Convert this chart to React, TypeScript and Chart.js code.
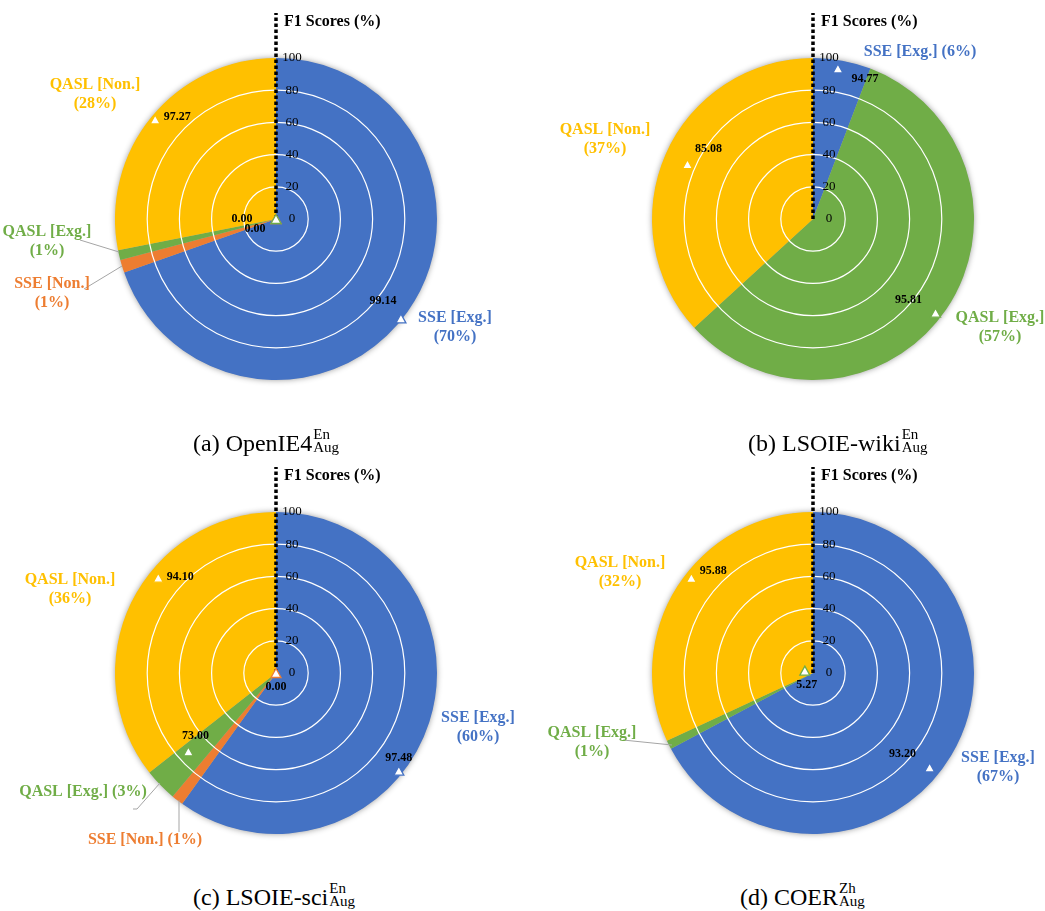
import React, { useEffect, useRef } from "react";
import { Chart, registerables } from "chart.js";

Chart.register(...registerables);

// ---------------- data ----------------
const CATEGORIES_A = ["SSE [Exg.]", "SSE [Non.]", "QASL [Exg.]", "QASL [Non.]"];
const SHARES_A = [69.6, 1.3, 1.0, 28.1];
const F1_A = [99.14, 0.0, 0.0, 97.27];

const CATEGORIES_B = ["SSE [Exg.]", "QASL [Exg.]", "QASL [Non.]"];
const SHARES_B = [5.8, 57.4, 36.8];
const F1_B = [94.77, 95.81, 85.08];

const CATEGORIES_C = ["SSE [Exg.]", "SSE [Non.]", "QASL [Exg.]", "QASL [Non.]"];
const SHARES_C = [59.9, 1.2, 3.3, 35.6];
const F1_C = [97.48, 0.0, 73.0, 94.1];

const CATEGORIES_D = ["SSE [Exg.]", "QASL [Exg.]", "QASL [Non.]"];
const SHARES_D = [67.2, 0.9, 31.9];
const F1_D = [93.2, 5.27, 95.88];

const R_MIN = 0;
const R_MAX = 100;
const R_STEP = 20;
const AXIS_TITLE = "F1 Scores (%)";

// ---------------- styles / layout ----------------
const SERIF = '"Liberation Serif", "Times New Roman", "DejaVu Serif", serif';
const COLOR_BY_CATEGORY: Record<string, string> = {
  "SSE [Exg.]": "#4472C4",
  "SSE [Non.]": "#ED7D31",
  "QASL [Exg.]": "#70AD47",
  "QASL [Non.]": "#FFC000",
};
const RADIUS = 161;

type Label = { dx: number; dy: number; oneLine?: boolean; leader?: number[][] };
type Panel = {
  key: string;
  categories: string[];
  shares: number[];
  f1: number[];
  markerAngles: (number | null)[]; // degrees clockwise from 12 o'clock; null = slice middle
  labels: Label[];
  valueOffsets: number[][];
  box: { x: number; y: number; w: number; h: number };
  center: { x: number; y: number };
  caption: { main: string; sup: string; sub: string; left: number; top: number };
};

const PANELS: Panel[] = [
  {
    key: "a",
    categories: CATEGORIES_A,
    shares: SHARES_A,
    f1: F1_A,
    markerAngles: [128.5, null, null, 309.5],
    labels: [
      { dx: 179, dy: 99 },
      { dx: -224, dy: 65, leader: [[-192, 70], [-154, 47]] },
      { dx: -229, dy: 13, leader: [[-196, 21], [-157, 33]] },
      { dx: -181, dy: -134 },
    ],
    valueOffsets: [[-18, -17], [-21, 10], [-34, 0], [22, -2]],
    box: { x: 0, y: 0, w: 522, h: 420 },
    center: { x: 276, y: 219 },
    caption: { main: "(a) OpenIE4", sup: "En", sub: "Aug", left: 193, top: 428 },
  },
  {
    key: "b",
    categories: CATEGORIES_B,
    shares: SHARES_B,
    f1: F1_B,
    markerAngles: [9.4, 127.4, 293.6],
    labels: [
      { dx: 107, dy: -167, oneLine: true },
      { dx: 187, dy: 99 },
      { dx: -208, dy: -89 },
    ],
    valueOffsets: [[27, 10], [-27, -13], [21, -15]],
    box: { x: 523, y: 0, w: 522, h: 420 },
    center: { x: 813, y: 219 },
    caption: { main: "(b) LSOIE-wiki", sup: "En", sub: "Aug", left: 748, top: 428 },
  },
  {
    key: "c",
    categories: CATEGORIES_C,
    shares: SHARES_C,
    f1: F1_C,
    markerAngles: [128.5, null, 228.2, 309],
    labels: [
      { dx: 202, dy: 45 },
      { dx: -131, dy: 167, oneLine: true, leader: [[-97, 159], [-97, 127]] },
      { dx: -193, dy: 119, oneLine: true, leader: [[-143, 136], [-139, 136], [-116, 110]] },
      { dx: -206, dy: -93 },
    ],
    valueOffsets: [[0, -13], [0, 14], [7, -15], [22, -1]],
    box: { x: 0, y: 454, w: 522, h: 420 },
    center: { x: 276, y: 673 },
    caption: { main: "(c) LSOIE-sci", sup: "En", sub: "Aug", left: 193, top: 882 },
  },
  {
    key: "d",
    categories: CATEGORIES_D,
    shares: SHARES_D,
    f1: F1_D,
    markerAngles: [129, 286, 308],
    labels: [
      { dx: 185, dy: 85 },
      { dx: -221, dy: 60, leader: [[-190, 67], [-141, 72]] },
      { dx: -193, dy: -110 },
    ],
    valueOffsets: [[-27, -14], [2, 14], [22, -7]],
    box: { x: 523, y: 454, w: 522, h: 420 },
    center: { x: 813, y: 673 },
    caption: { main: "(d) COER", sup: "Zh", sub: "Aug", left: 740, top: 882 },
  },
];

function drawTriangle(ctx: CanvasRenderingContext2D, x: number, y: number, stroke: string) {
  const w = 10;
  const h = 9;
  ctx.beginPath();
  ctx.moveTo(x, y - h / 2);
  ctx.lineTo(x + w / 2, y + h / 2);
  ctx.lineTo(x - w / 2, y + h / 2);
  ctx.closePath();
  ctx.fillStyle = "#ffffff";
  ctx.fill();
  ctx.lineWidth = 1.3;
  ctx.strokeStyle = stroke;
  ctx.stroke();
}

function PolarPanel({ panel }: { panel: Panel }) {
  const ref = useRef<HTMLCanvasElement>(null);

  useEffect(() => {
    const canvas = ref.current;
    if (!canvas) return;
    const { box, center } = panel;
    const padding = {
      left: center.x - RADIUS - box.x,
      top: center.y - RADIUS - box.y,
      right: box.x + box.w - (center.x + RADIUS),
      bottom: box.y + box.h - (center.y + RADIUS),
    };
    const colors = panel.categories.map((c) => COLOR_BY_CATEGORY[c]);

    const overlay = {
      id: "overlay-" + panel.key,
      beforeDatasetsDraw(chart: any) {
        const s = chart.scales.r;
        const ctx: CanvasRenderingContext2D = chart.ctx;
        ctx.save();
        ctx.shadowColor = "rgba(0,0,0,0.45)";
        ctx.shadowBlur = 6;
        ctx.fillStyle = "#b0b0b0";
        ctx.beginPath();
        ctx.arc(s.xCenter, s.yCenter, s.drawingArea - 0.5, 0, Math.PI * 2);
        ctx.fill();
        ctx.restore();
      },
      afterDatasetsDraw(chart: any) {
        // white concentric gridlines of the radial scale, over the slices
        const s = chart.scales.r;
        const ctx: CanvasRenderingContext2D = chart.ctx;
        ctx.save();
        ctx.strokeStyle = "#ffffff";
        ctx.lineWidth = 1.2;
        s.ticks.forEach((t: any) => {
          if (t.value <= R_MIN || t.value >= R_MAX) return;
          const d = s.getDistanceFromCenterForValue(t.value);
          ctx.beginPath();
          ctx.arc(s.xCenter, s.yCenter, d, 0, Math.PI * 2);
          ctx.stroke();
        });
        ctx.restore();
      },
      afterDraw(chart: any) {
        const s = chart.scales.r;
        const ctx: CanvasRenderingContext2D = chart.ctx;
        const xc = s.xCenter;
        const yc = s.yCenter;
        ctx.save();

        // dotted vertical axis
        ctx.setLineDash([3.5, 2.5]);
        ctx.lineWidth = 3.5;
        ctx.strokeStyle = "#000";
        ctx.beginPath();
        ctx.moveTo(xc, yc);
        ctx.lineTo(xc, yc - 206);
        ctx.stroke();
        ctx.setLineDash([]);

        // tick labels
        ctx.font = "13px " + SERIF;
        ctx.fillStyle = "#000";
        ctx.textAlign = "center";
        ctx.textBaseline = "middle";
        s.ticks.forEach((t: any) => {
          const d = s.getDistanceFromCenterForValue(t.value);
          ctx.fillText(String(t.value), xc + 16, yc - d);
        });

        // axis title
        ctx.font = "bold 16px " + SERIF;
        ctx.textAlign = "left";
        ctx.fillText(AXIS_TITLE, xc + 8, yc - 197);

        // triangles + value labels
        const meta = chart.getDatasetMeta(0);
        const pts: number[][] = [];
        meta.data.forEach((arc: any, i: number) => {
          const fixed = panel.markerAngles[i];
          const ang =
            fixed === null || fixed === undefined
              ? (arc.startAngle + arc.endAngle) / 2
              : ((fixed - 90) * Math.PI) / 180;
          const d = s.getDistanceFromCenterForValue(panel.f1[i]);
          pts.push([xc + Math.cos(ang) * d, yc + Math.sin(ang) * d]);
        });
        pts.forEach((p, i) => drawTriangle(ctx, p[0], p[1], colors[i]));
        ctx.font = "bold 12px " + SERIF;
        ctx.textAlign = "center";
        ctx.fillStyle = "#000";
        pts.forEach((p, i) => {
          const o = panel.valueOffsets[i];
          ctx.fillText(panel.f1[i].toFixed(2), p[0] + o[0], p[1] + o[1]);
        });

        // leader lines
        ctx.strokeStyle = "#A5A5A5";
        ctx.lineWidth = 1;
        panel.labels.forEach((l) => {
          if (!l.leader) return;
          ctx.beginPath();
          l.leader.forEach((q, k) => {
            if (k === 0) ctx.moveTo(xc + q[0], yc + q[1]);
            else ctx.lineTo(xc + q[0], yc + q[1]);
          });
          ctx.stroke();
        });

        // category labels
        ctx.font = "bold 16px " + SERIF;
        ctx.textAlign = "center";
        panel.labels.forEach((l, i) => {
          const pct = Math.round(panel.shares[i]) + "%";
          ctx.fillStyle = colors[i];
          if (l.oneLine) {
            ctx.fillText(`${panel.categories[i]} (${pct})`, xc + l.dx, yc + l.dy);
          } else {
            ctx.fillText(panel.categories[i], xc + l.dx, yc + l.dy);
            ctx.fillText(`(${pct})`, xc + l.dx, yc + l.dy + 18.5);
          }
        });

        ctx.restore();
      },
    };

    const chart = new Chart(canvas, {
      type: "polarArea",
      data: {
        labels: panel.categories,
        datasets: [
          {
            data: panel.categories.map(() => R_MAX),
            angle: panel.shares.map((v) => v * 3.6),
            backgroundColor: colors,
            borderWidth: 0,
          } as any,
        ],
      },
      options: {
        responsive: false,
        animation: false,
        devicePixelRatio: window.devicePixelRatio || 1,
        layout: { padding },
        plugins: { legend: { display: false }, tooltip: { enabled: false } },
        scales: {
          r: {
            min: R_MIN,
            max: R_MAX,
            ticks: { stepSize: R_STEP, display: false },
            grid: { display: false },
            angleLines: { display: false },
            pointLabels: { display: false },
          },
        },
      } as any,
      plugins: [overlay as any],
    });
    return () => chart.destroy();
  }, [panel]);

  return (
    <canvas
      ref={ref}
      width={panel.box.w}
      height={panel.box.h}
      style={{ position: "absolute", left: panel.box.x, top: panel.box.y }}
    />
  );
}

function Caption({ panel }: { panel: Panel }) {
  const c = panel.caption;
  return (
    <div
      style={{
        position: "absolute",
        left: c.left,
        top: c.top,
        fontFamily: SERIF,
        fontSize: 24,
        lineHeight: "24px",
        whiteSpace: "nowrap",
        color: "#000",
      }}
    >
      <span>{c.main}</span>
      <span
        style={{
          display: "inline-block",
          fontSize: 15,
          lineHeight: "13px",
          verticalAlign: "-1px",
          marginLeft: 1,
        }}
      >
        <span style={{ display: "block" }}>{c.sup}</span>
        <span style={{ display: "block" }}>{c.sub}</span>
      </span>
    </div>
  );
}

export default function App() {
  return (
    <div
      style={{
        position: "absolute",
        left: 0,
        top: 0,
        width: 1045,
        height: 911,
        background: "#ffffff",
        overflow: "hidden",
      }}
    >
      {PANELS.map((p) => (
        <PolarPanel key={p.key} panel={p} />
      ))}
      {PANELS.map((p) => (
        <Caption key={"cap-" + p.key} panel={p} />
      ))}
    </div>
  );
}
